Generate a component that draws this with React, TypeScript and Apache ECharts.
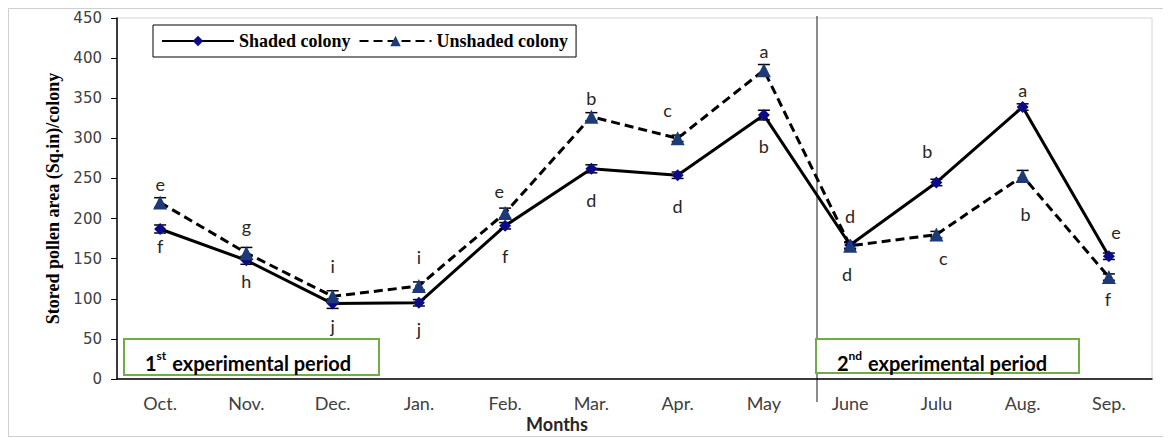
import React, { useEffect, useRef } from "react";
import * as echarts from "echarts";

// Months of the two experimental periods
const months = ["Oct.", "Nov.", "Dec.", "Jan.", "Feb.", "Mar.", "Apr.", "May", "June", "Julu", "Aug.", "Sep."];

// Stored pollen area (Sq.in)/colony
const shaded = [187, 148, 94, 95, 191, 262, 254, 329, 167, 245, 339, 153];
const unshaded = [220, 157, 103, 116, 207, 327, 300, 385, 166, 180, 253, 127];

// Standard error of each mean
const shadedErr = [5, 5, 6, 4, 4, 5, 4, 6, 4, 4, 4, 4];
const unshadedErr = [6, 7, 7, 5, 6, 5, 4, 7, 4, 4, 7, 4];

// Significance letters
const shadedLetters = ["f", "h", "j", "j", "f", "d", "d", "b", "d", "b", "a", "e"];
const unshadedLetters = ["e", "g", "i", "i", "e", "b", "c", "a", "d", "c", "b", "f"];

// Label placement: side, gap from marker, horizontal nudge
const shadedLabelPos: [string, number, number][] = [
  ["bottom", 2, 0], ["bottom", 6, 0], ["bottom", 7, 0], ["bottom", 11, 0],
  ["bottom", 15, 0], ["bottom", 16, 0], ["bottom", 16, 0], ["bottom", 16, 0],
  ["top", 14, 0], ["top", 16, -9], ["top", 2, 0], ["top", 9, 7],
];
const unshadedLabelPos: [string, number, number][] = [
  ["top", 3, 0], ["top", 11, 0], ["top", 14, 0], ["top", 13, 0],
  ["top", 6, -6], ["top", 3, 0], ["top", 12, -10], ["top", 3, 0],
  ["bottom", 12, -3], ["bottom", 7, 7], ["bottom", 22, 3], ["bottom", 6, -1],
];

const SANS = "Lato, 'Open Sans', sans-serif";
const SERIF = "'Liberation Serif', 'Times New Roman', serif";

function withLabels(values: number[], letters: string[], pos: [string, number, number][]) {
  return values.map((v, i) => ({
    value: v,
    label: {
      show: true,
      formatter: letters[i],
      position: pos[i][0],
      distance: pos[i][1],
      offset: [pos[i][2], 0],
      color: "#262626",
      fontSize: 18,
      fontFamily: SANS,
    },
  }));
}

function errorBars(name: string, values: number[], errs: number[]) {
  return {
    type: "custom",
    name: name + " error",
    silent: true,
    z: 1,
    data: values.map((v, i) => [i, v - errs[i], v + errs[i]]),
    renderItem: (params: any, api: any) => {
      const x = api.value(0);
      const lo = api.coord([x, api.value(1)]);
      const hi = api.coord([x, api.value(2)]);
      const w = 6;
      const style = { stroke: "#000", lineWidth: 1.5 };
      return {
        type: "group",
        children: [
          { type: "line", shape: { x1: lo[0], y1: lo[1], x2: hi[0], y2: hi[1] }, style },
          { type: "line", shape: { x1: hi[0] - w, y1: hi[1], x2: hi[0] + w, y2: hi[1] }, style },
          { type: "line", shape: { x1: lo[0] - w, y1: lo[1], x2: lo[0] + w, y2: lo[1] }, style },
        ],
      };
    },
  };
}

export default function App() {
  const ref = useRef<HTMLDivElement>(null);

  useEffect(() => {
    if (!ref.current) return;
    const chart = echarts.init(ref.current, undefined, { renderer: "svg" });

    const periodText = (n: string, sup: string) =>
      `{m|${n}}{s|${sup}}{m| experimental period}`;
    const periodRich = {
      m: { fontSize: 20, fontWeight: "bold", fontFamily: SANS, color: "#1a1a1a", lineHeight: 24, verticalAlign: "bottom" },
      s: { fontSize: 12, fontWeight: "bold", fontFamily: SANS, color: "#1a1a1a", lineHeight: 24, verticalAlign: "top", padding: [0, 1, 0, 0] },
    };

    chart.setOption({
      animation: false,
      backgroundColor: "#fff",
      grid: {
        left: 109,
        right: 19,
        top: 10,
        bottom: 59,
        show: true,
        borderColor: "#d4d4d4",
        borderWidth: 1,
      },
      legend: {
        left: 145,
        top: 17,
        orient: "horizontal",
        data: ["Shaded colony", "Unshaded colony"],
        itemWidth: 72,
        itemHeight: 13,
        itemGap: 8,
        padding: [7, 8, 7, 8],
        borderColor: "#000",
        borderWidth: 1,
        textStyle: {
          fontFamily: SERIF,
          fontWeight: "bold",
          fontSize: 18,
          color: "#000",
        },
      },
      xAxis: {
        type: "category",
        data: months,
        boundaryGap: true,
        axisLine: { lineStyle: { color: "#000", width: 1.5 } },
        axisTick: { length: 6, lineStyle: { color: "#000" } },
        axisLabel: { color: "#404040", fontSize: 18, fontFamily: SANS, margin: 15 },
        splitLine: { show: false },
      },
      yAxis: {
        type: "value",
        min: 0,
        max: 450,
        interval: 50,
        name: "Stored pollen area (Sq.in)/colony",
        nameLocation: "middle",
        nameGap: 55,
        nameTextStyle: {
          fontFamily: SERIF,
          fontWeight: "bold",
          fontSize: 18,
          color: "#000",
        },
        axisLine: { show: true, lineStyle: { color: "#000", width: 1.5 } },
        axisTick: { show: true, length: 6, lineStyle: { color: "#000" } },
        axisLabel: { color: "#404040", fontSize: 15, fontFamily: "'DejaVu Sans', Verdana, sans-serif", margin: 15 },
        splitLine: { show: false },
      },
      series: [
        errorBars("Shaded colony", shaded, shadedErr),
        errorBars("Unshaded colony", unshaded, unshadedErr),
        {
          name: "Shaded colony",
          type: "line",
          z: 3,
          data: withLabels(shaded, shadedLetters, shadedLabelPos),
          symbol: "diamond",
          symbolSize: 12,
          itemStyle: { color: "#0a0a8a" },
          lineStyle: { color: "#000", width: 3, type: "solid" },
        },
        {
          name: "Unshaded colony",
          type: "line",
          z: 3,
          data: withLabels(unshaded, unshadedLetters, unshadedLabelPos),
          symbol: "triangle",
          symbolSize: 14,
          itemStyle: { color: "#1c3a78" },
          lineStyle: { color: "#000", width: 3, type: [9, 5] },
        },
      ],
      graphic: [
        {
          type: "rect",
          silent: true,
          z: 0,
          shape: { x: 0.5, y: 0.5, width: 1161, height: 428 },
          style: { fill: "none", stroke: "#cfcfcf", lineWidth: 1 },
        },
        {
          type: "line",
          silent: true,
          shape: { x1: 809, y1: 8, x2: 809, y2: 394 },
          style: { stroke: "#404040", lineWidth: 1.2 },
        },
        {
          type: "rect",
          silent: true,
          shape: { x: 116, y: 331, width: 255, height: 36 },
          style: { fill: "#fff", stroke: "#70ad47", lineWidth: 2 },
        },
        {
          type: "text",
          silent: true,
          x: 137,
          y: 341,
          style: { text: periodText("1", "st"), rich: periodRich },
        },
        {
          type: "rect",
          silent: true,
          shape: { x: 808, y: 331, width: 263, height: 34 },
          style: { fill: "#fff", stroke: "#70ad47", lineWidth: 2 },
        },
        {
          type: "text",
          silent: true,
          x: 829,
          y: 341,
          style: { text: periodText("2", "nd"), rich: periodRich },
        },
        {
          type: "text",
          silent: true,
          x: 549,
          y: 416,
          style: {
            text: "Months",
            fontFamily: SANS,
            fontWeight: "bold",
            fontSize: 18,
            fill: "#262626",
            align: "center",
            verticalAlign: "middle",
          },
        },
      ],
    });

    return () => chart.dispose();
  }, []);

  return <div ref={ref} style={{ width: 1163, height: 430 }} />;
}
